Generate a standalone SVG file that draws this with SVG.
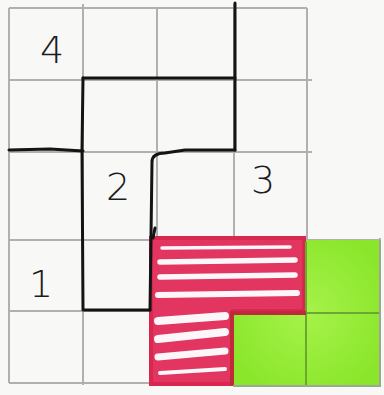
<svg xmlns="http://www.w3.org/2000/svg" width="384" height="395" viewBox="0 0 384 395">
  <style>
    .grid { stroke: #b0b0b0; stroke-width: 2; fill: none; }
    .ink { stroke: #141414; stroke-width: 3; fill: none; stroke-linecap: round; stroke-linejoin: round; }
    .gap { stroke: #fbf7f8; fill: none; stroke-linecap: round; }
    .lbl { font-family: "DejaVu Sans", "Liberation Sans", sans-serif; font-size: 38px; fill: #1c1c1c; font-weight: 300; }
  </style>
  <defs>
    <radialGradient id="lime" cx="0.5" cy="0.5" r="0.6">
      <stop offset="0" stop-color="#a6f24a"/>
      <stop offset="1" stop-color="#8ae62a"/>
    </radialGradient>
  </defs>
  <rect x="0" y="0" width="384" height="395" fill="#f8f8f7"/>

  <g id="grid">
    <path class="grid" d="M9 8 H307 M9 80 H312 M9 152 H312 M9 240 H381 M9 311 H381 M9 383 H381"/>
    <path class="grid" d="M9 8 V383 M83 4 V385 M157 8 V385 M234 4 V387 M307 8 V387 M380 238 V387"/>
  </g>

  <g id="region-hatched">
    <path d="M150 238 H305 V312 H232 V385 H150 Z" fill="#e23560"/>
    <path class="gap" stroke-width="3.5" d="M162 248 L290 247"/>
    <path class="gap" stroke-width="5.5" d="M160 262 L295 260"/>
    <path class="gap" stroke-width="5.5" d="M160 277 L295 275"/>
    <path class="gap" stroke-width="6" d="M158 295 L297 293"/>
    <path class="gap" stroke-width="8" d="M158 321 L225 316"/>
    <path class="gap" stroke-width="8" d="M158 339 L225 332"/>
    <path class="gap" stroke-width="7" d="M158 357 L225 351"/>
    <path class="gap" stroke-width="4" d="M160 373 L225 369"/>
    <path d="M151 238 H304 V311 H233 V384 H151 Z" fill="none" stroke="#d8284f" stroke-width="4"/>
  </g>

  <g id="region-green">
    <path d="M306 240 H380 V386 H233 V313 H306 Z" fill="url(#lime)"/>
    <path d="M306 242 V386 M306 313 H380" stroke="#6aa830" stroke-width="2" fill="none"/>
    <path d="M232 386 V313 H306" stroke="#c0283c" stroke-width="4" fill="none"/>
    <path d="M380 240 V386 H233" stroke="#9aa890" stroke-width="2" fill="none"/>
  </g>

  <g id="outlines">
    <path class="ink" d="M9 150 L50 149 L83 151"/>
    <path class="ink" d="M83 78 L82 150 L83 310 L150 310"/>
    <path class="ink" d="M83 78 L235 78"/>
    <path class="ink" d="M235 3 L235 150"/>
    <path class="ink" d="M235 150 L185 150 L165 153 Q152 153 152 162 L150 310"/>
    <path class="ink" stroke-width="2" d="M155 228 L153 238"/>
  </g>

  <g id="labels">
    <text class="lbl" x="40" y="63">4</text>
    <text class="lbl" x="106" y="200">2</text>
    <text class="lbl" x="251" y="193">3</text>
    <text class="lbl" x="29" y="297">1</text>
  </g>
</svg>
